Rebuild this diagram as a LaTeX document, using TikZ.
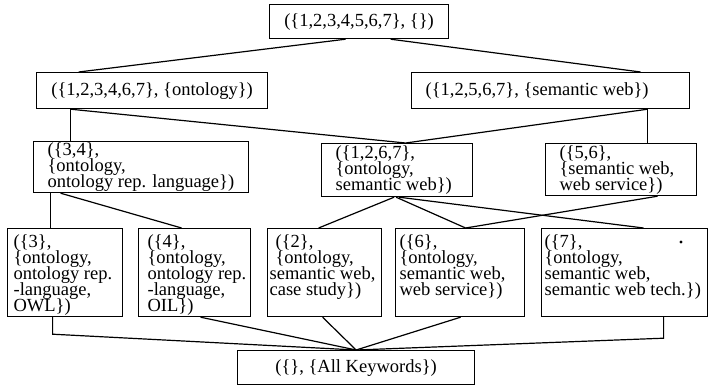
\documentclass[tikz,border=0pt]{standalone}
\usepackage{fontspec}
\setmainfont{Liberation Serif}
\newcommand{\celltext}[3]{\parbox{#1}{\lineskiplimit=-100pt\leftskip=#2\rightskip=0pt plus 1fil\relax #3}}
\newcommand{\celltop}[4]{\parbox[c][#2][t]{#1}{\lineskiplimit=-100pt\leftskip=#3\rightskip=0pt plus 1fil\relax #4}}
\begin{document}
\begin{tikzpicture}[x=1pt,y=-1pt,
  lbox/.style={draw,line width=1.2pt,inner sep=0pt,anchor=north west,
    font=\fontsize{18.5}{16}\selectfont},
  conn/.style={line width=1.2pt}]
\useasboundingbox (0,0) rectangle (709,385);
% row 1
\node[lbox,minimum width=179pt,minimum height=34pt] (top) at (269,4) {(\{1,2,3,4,5,6,7\}, \{\})};
% row 2
\node[lbox,minimum width=231pt,minimum height=36pt] (r2L) at (36,72) {(\{1,2,3,4,6,7\}, \{ontology\})};
\node[lbox,minimum width=278pt,minimum height=36pt] (r2R) at (411,72) {\celltext{278pt}{14pt}{(\{1,2,5,6,7\}, \{semantic web\})}};
% row 3
\node[lbox,minimum width=215pt,minimum height=51pt] (r3L) at (33,141) {\celltext{215pt}{14pt}{(\{3,4\},\\ \{ontology,\\ ontology rep. language\})}};
\node[lbox,minimum width=151pt,minimum height=53pt] (r3M) at (321,143) {\celltext{151pt}{14pt}{(\{1,2,6,7\},\\ \{ontology,\\ semantic web\})}};
\node[lbox,minimum width=151pt,minimum height=52pt] (r3R) at (545,143) {\celltext{151pt}{14pt}{(\{5,6\},\\ \{semantic web,\\ web service\})}};
% row 4
\node[lbox,minimum width=115pt,minimum height=88pt] (A) at (7,228) {\celltop{115pt}{76pt}{6pt}{(\{3\},\\ \{ontology,\\ ontology rep.\\ -language,\\ OWL\})}};
\node[lbox,minimum width=112pt,minimum height=88pt] (B) at (138,228) {\celltop{112pt}{76pt}{9pt}{(\{4\},\\ \{ontology,\\ ontology rep.\\ -language,\\ OIL\})}};
\node[lbox,minimum width=114pt,minimum height=88pt] (C) at (267,228) {\celltop{114pt}{76pt}{2pt}{\hspace*{6pt}(\{2\},\\ \hspace*{6pt}\{ontology,\\ semantic web,\\ case study\})}};
\node[lbox,minimum width=129pt,minimum height=88pt] (D) at (395,228) {\celltop{129pt}{76pt}{4pt}{(\{6\},\\ \{ontology,\\ semantic web,\\ web service\})}};
\node[lbox,minimum width=166pt,minimum height=88pt] (E) at (541,228) {\celltop{166pt}{76pt}{3pt}{(\{7\},\\ \{ontology,\\ semantic web,\\ semantic web tech.\})}};
\node[circle,fill,inner sep=0pt,minimum size=3.2pt] (dot) at (681,242) {};
% bottom
\node[lbox,minimum width=237pt,minimum height=34pt] (bot) at (237,350) {(\{\}, \{All Keywords\})};
% connectors row1-row2
\draw[conn] ([xshift=-13.5pt]top.south) -- ([xshift=-73.5pt]r2L.north);
\draw[conn] ([xshift=31.5pt]top.south) -- ([xshift=90pt]r2R.north);
% row2-row3
\draw[conn] ([xshift=-81.5pt]r2L.south) -- ([xshift=-70.5pt]r3L.north);
\draw[conn] ([xshift=-81.5pt]r2L.south) -- ([xshift=8.5pt]r3M.north);
\draw[conn] ([xshift=97pt]r2R.south) -- ([xshift=8.5pt]r3M.north);
\draw[conn] ([xshift=97pt]r2R.south) -- ([xshift=26.5pt]r3R.north);
% row3-row4
\draw[conn] ([xshift=-90.5pt]r3L.south) -- ([xshift=-14.5pt]A.north);
\draw[conn] ([xshift=-80.5pt]r3L.south) -- ([xshift=-13pt]B.north);
\draw[conn] ([xshift=-3pt]r3M.south) -- ([xshift=-6pt]C.north);
\draw[conn] ([xshift=-1pt]r3M.south) -- ([xshift=5.5pt]D.north);
\draw[conn] ([xshift=2pt]r3M.south) -- ([xshift=19pt]E.north);
\draw[conn] ([xshift=36.5pt]r3R.south) -- ([xshift=5.5pt]D.north);
% row4-bottom
\draw[conn] ([xshift=-12.5pt]A.south) -- ++(0,17) -- (bot.north);
\draw[conn] ([xshift=6pt]B.south) -- (bot.north);
\draw[conn] ([xshift=-2pt]C.south) -- (bot.north);
\draw[conn] ([xshift=0.5pt]D.south) -- (bot.north);
\draw[conn] ([xshift=39pt]E.south) -- ++(0,21) -- (bot.north);
\end{tikzpicture}
\end{document}
